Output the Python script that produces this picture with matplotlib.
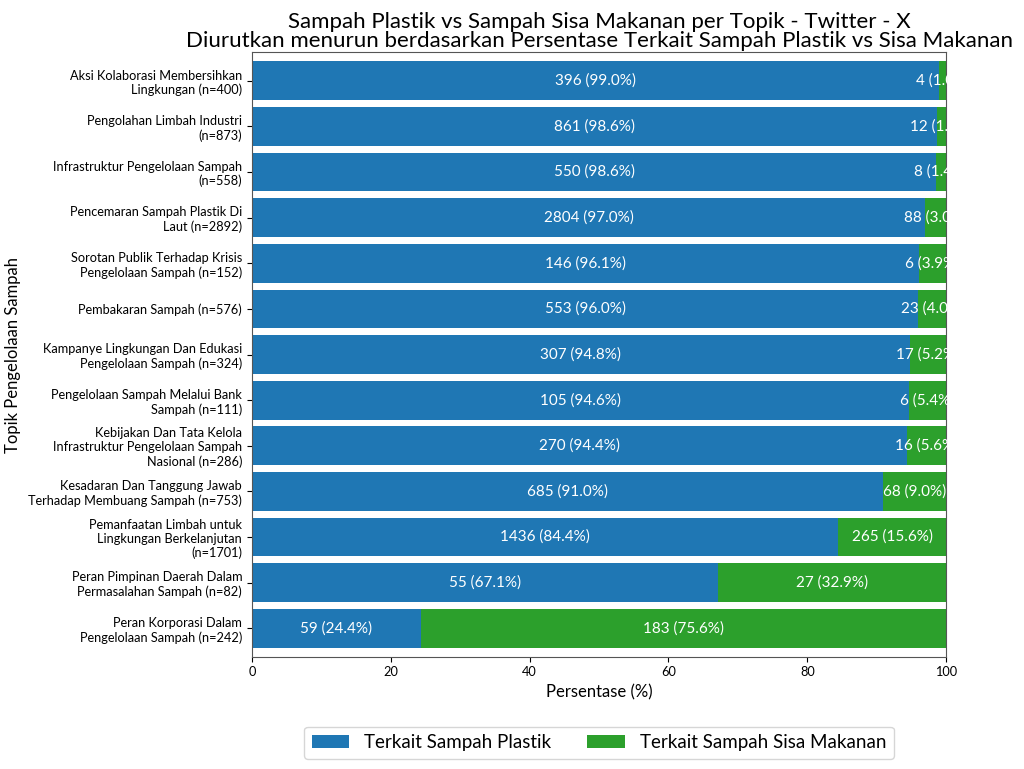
import textwrap
import numpy as np
import matplotlib
matplotlib.use("Agg")
import matplotlib.pyplot as plt

plt.rcParams['font.family'] = ['Lato', 'DejaVu Sans']

topics = [
    'Aksi Kolaborasi Membersihkan Lingkungan',
    'Pengolahan Limbah Industri',
    'Infrastruktur Pengelolaan Sampah',
    'Pencemaran Sampah Plastik Di Laut',
    'Sorotan Publik Terhadap Krisis Pengelolaan Sampah',
    'Pembakaran Sampah',
    'Kampanye Lingkungan Dan Edukasi Pengelolaan Sampah',
    'Pengelolaan Sampah Melalui Bank Sampah',
    'Kebijakan Dan Tata Kelola Infrastruktur Pengelolaan Sampah Nasional',
    'Kesadaran Dan Tanggung Jawab Terhadap Membuang Sampah',
    'Pemanfaatan Limbah untuk Lingkungan Berkelanjutan',
    'Peran Pimpinan Daerah Dalam Permasalahan Sampah',
    'Peran Korporasi Dalam Pengelolaan Sampah',
]
plastik = [396, 861, 550, 2804, 146, 553, 307, 105, 270, 685, 1436, 55, 59]
sisa_makanan = [4, 12, 8, 88, 6, 23, 17, 6, 16, 68, 265, 27, 183]

series_names = ['Terkait Sampah Plastik', 'Terkait Sampah Sisa Makanan']
colors = ['#1f77b4', '#2ca02c']

plastik = np.array(plastik)
sisa_makanan = np.array(sisa_makanan)
total = plastik + sisa_makanan
pct_plastik = plastik / total * 100
pct_sisa = sisa_makanan / total * 100

labels = [textwrap.fill(f'{t} (n={n})', 32) for t, n in zip(topics, total)]
y = np.arange(len(topics))

fig = plt.figure(figsize=(10.24, 7.69), dpi=100)
ax = fig.add_axes([0.246, 0.146, 0.678, 0.786])

b1 = ax.barh(y, pct_plastik, height=0.85, color=colors[0], label=series_names[0])
b2 = ax.barh(y, pct_sisa, left=pct_plastik, height=0.85, color=colors[1],
             label=series_names[1])

for bars, counts, pcts in ((b1, plastik, pct_plastik), (b2, sisa_makanan, pct_sisa)):
    texts = ax.bar_label(bars, labels=[f'{c} ({p:.1f}%)' for c, p in zip(counts, pcts)],
                         label_type='center', color='white', fontsize=11)
    for t in texts:
        t.set_clip_on(True)

ax.set_yticks(y)
ax.set_yticklabels(labels, fontsize=9.2)
ax.set_ylim(len(topics) - 0.375, -0.625)
ax.set_xlim(0, 100)
ax.tick_params(axis='x', labelsize=9.2)
for s in ax.spines.values():
    s.set_color('#555555')

ax.set_xlabel('Persentase (%)', fontsize=12)
ax.set_ylabel('Topik Pengelolaan Sampah', fontsize=12)
ax.yaxis.set_label_coords(-0.333, 0.5)
ax.set_title('Sampah Plastik vs Sampah Sisa Makanan per Topik - Twitter - X\n'
             'Diurutkan menurun berdasarkan Persentase Terkait Sampah Plastik vs Sisa Makanan',
             fontsize=16, linespacing=0.95, pad=4)

ax.legend(loc='upper center', bbox_to_anchor=(0.5, -0.1), ncol=2, fontsize=13.5,
          handlelength=2.0, columnspacing=1.9, frameon=True)

fig.savefig('out.png', dpi=100)
